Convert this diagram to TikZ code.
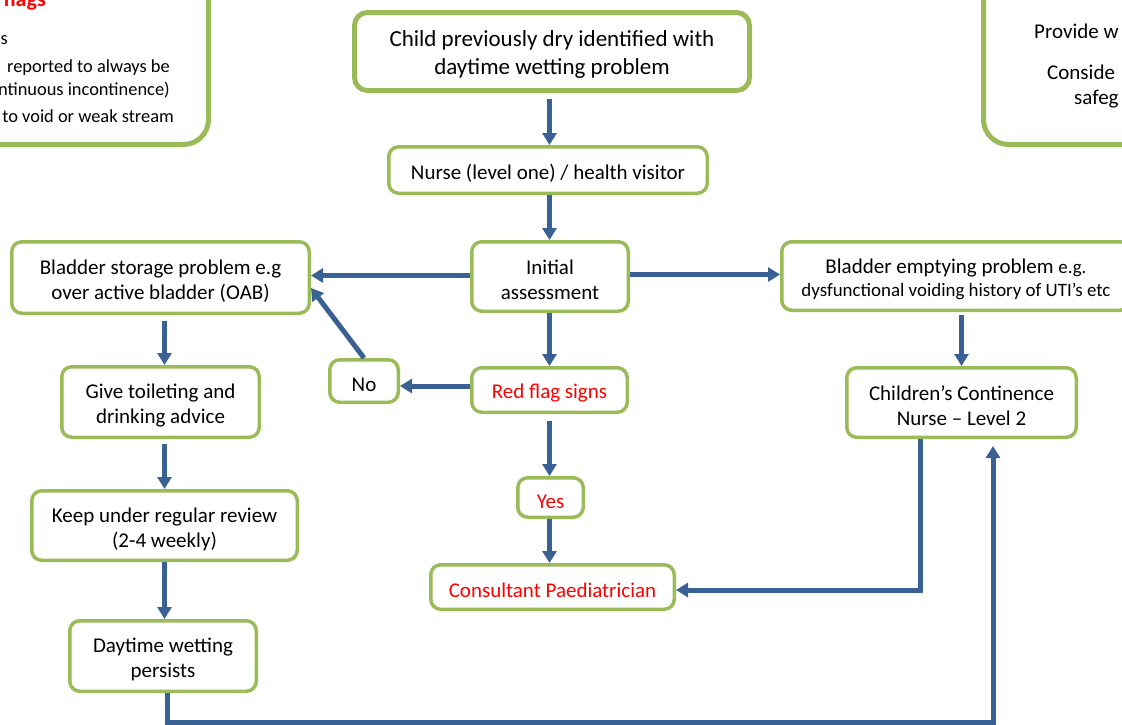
\documentclass[tikz,border=0pt]{standalone}
\usepackage{fontspec}
\setmainfont{Carlito}
\usetikzlibrary{arrows.meta}
\definecolor{boxgreen}{HTML}{9BBB59}
\definecolor{arrowblue}{HTML}{3A6194}
\definecolor{flagred}{HTML}{FF0000}
\tikzset{
  box/.style={draw=boxgreen, line width=3.5pt, rounded corners=10pt, fill=white,
    align=center, inner sep=0pt, font=\fontsize{21}{25}\selectfont, text=black},
  oneline/.style={text height=21.5pt},
  twolines/.style={text height=46.5pt},
  bigbox/.style={box, line width=5pt, rounded corners=13pt, text height=49.3pt, font=\fontsize{23}{28}\selectfont},
  redtext/.style={text=flagred},
  sidebox/.style={draw=boxgreen, line width=5pt, rounded corners=25pt},
  sidetext/.style={inner sep=0pt, font=\fontsize{18.4}{23}\selectfont, text=black},
  arr/.style={draw=arrowblue, line width=5pt, -{Triangle[width=14pt,length=12pt]}},
}
\begin{document}
\begin{tikzpicture}[x=1pt,y=-1pt]
\useasboundingbox (0,0) rectangle (1122,724);
\clip (0,0) rectangle (1122,724);

% side boxes (partly outside the picture)
\draw[sidebox] (-60,-60) rectangle (208.5,144.5);
\draw[sidebox] (983.5,-60) rectangle (1200,144.5);
\node[sidetext, anchor=base east, text=flagred, font=\fontsize{22}{25}\selectfont\bfseries] (tl0) at (46,6) {flags};
\node[sidetext, anchor=base east] (tl1) at (8,44) {s};
\node[sidetext, anchor=base east] (tl2) at (170,72) {reported to always be};
\node[sidetext, anchor=base east] (tl3) at (170,95) {ntinuous incontinence)};
\node[sidetext, anchor=base east] (tl4) at (174,122) {to void or weak stream};
\node[sidetext, anchor=base west, font=\fontsize{21}{25}\selectfont] (tr1) at (1034,38) {Provide w};
\node[sidetext, anchor=base west, font=\fontsize{21}{25}\selectfont] (tr2) at (1047,79) {Conside};
\node[sidetext, anchor=base west, font=\fontsize{21}{25}\selectfont] (tr3) at (1074,104) {safeg};

% main boxes
\node[bigbox, minimum width=395pt, minimum height=78pt] (top) at (552,51.5)
  {Child previously dry identified with\\daytime wetting problem};
\node[box, oneline, minimum width=318.5pt, minimum height=46.5pt] (nurse) at (548,170)
  {Nurse (level one) / health visitor};
\node[box, twolines, minimum width=156.5pt, minimum height=69.5pt] (init) at (550,276.5)
  {Initial\\assessment};
\node[box, twolines, minimum width=297.5pt, minimum height=71.5pt] (storage) at (160.5,277.5)
  {Bladder storage problem e.g\\over active bladder (OAB)};
\node[box, text height=44.7pt, minimum width=348.5pt, minimum height=68.5pt, font=\fontsize{21}{23}\selectfont] (emptying) at (956,276)
  {Bladder emptying problem {\fontsize{18.9}{23}\selectfont e.g.}\\{\fontsize{18.9}{23}\selectfont dysfunctional voiding history of UTI’s etc}};
\node[box, oneline, minimum width=68.5pt, minimum height=42.5pt] (no) at (364,381) {No};
\node[box, oneline, redtext, minimum width=155.5pt, minimum height=44.5pt] (redflag) at (549.5,390) {Red flag signs};
\node[box, twolines, minimum width=229.5pt, minimum height=69.5pt] (children) at (961.5,402.5)
  {Children’s Continence\\Nurse – Level 2};
\node[box, twolines, minimum width=197.5pt, minimum height=70.5pt] (give) at (160.5,402)
  {Give toileting and\\drinking advice};
\node[box, oneline, redtext, minimum width=65.5pt, minimum height=39.5pt] (yes) at (550.5,497.5) {Yes};
\node[box, twolines, minimum width=265.5pt, minimum height=69.5pt] (keep) at (164.5,525.5)
  {Keep under regular review\\(2-4 weekly)};
\node[box, oneline, redtext, minimum width=243.5pt, minimum height=44.5pt] (consultant) at (552.5,587)
  {Consultant Paediatrician};
\node[box, twolines, minimum width=186.5pt, minimum height=70.5pt] (daytime) at (163,656)
  {Daytime wetting\\persists};

% connectors
\draw[arr, shorten <=6pt] (top.south -| redflag) -- (nurse.north -| redflag);
\draw[arr] (nurse.south -| redflag) -- (init.north -| redflag);
\draw[arr] ([yshift=1pt]init.west) -- ([yshift=1pt]init.west -| storage.east);
\draw[arr] ([yshift=2pt]init.east) -- ([yshift=2pt]init.east -| emptying.west);
\draw[arr] (init.south -| redflag) -- (redflag.north);
\draw[arr] ([yshift=4pt]redflag.west) -- ([yshift=4pt]redflag.west -| no.east);
\draw[arr] (no.north) -- ([yshift=-10.5pt]storage.east);
\draw[arr, shorten <=7pt] (redflag.south) -- (yes.north -| redflag);
\draw[arr] (yes.south -| redflag) -- (consultant.north -| redflag);
\draw[arr, shorten <=6pt] (storage.south -| keep) -- (give.north -| keep);
\draw[arr, shorten <=5pt] (give.south -| keep) -- (keep.north);
\draw[arr] (keep.south) -- (daytime.north -| keep);
\draw[arr, shorten >=7pt] ([xshift=4pt]daytime.south) -- ++(0,29.5) -| ([xshift=31.5pt]children.south);
\draw[arr] ([xshift=-41.5pt]children.south) |- ([yshift=-3pt]consultant.east);
\draw[arr, shorten <=3pt] (emptying.south -| children) -- (children.north);
\end{tikzpicture}
\end{document}
